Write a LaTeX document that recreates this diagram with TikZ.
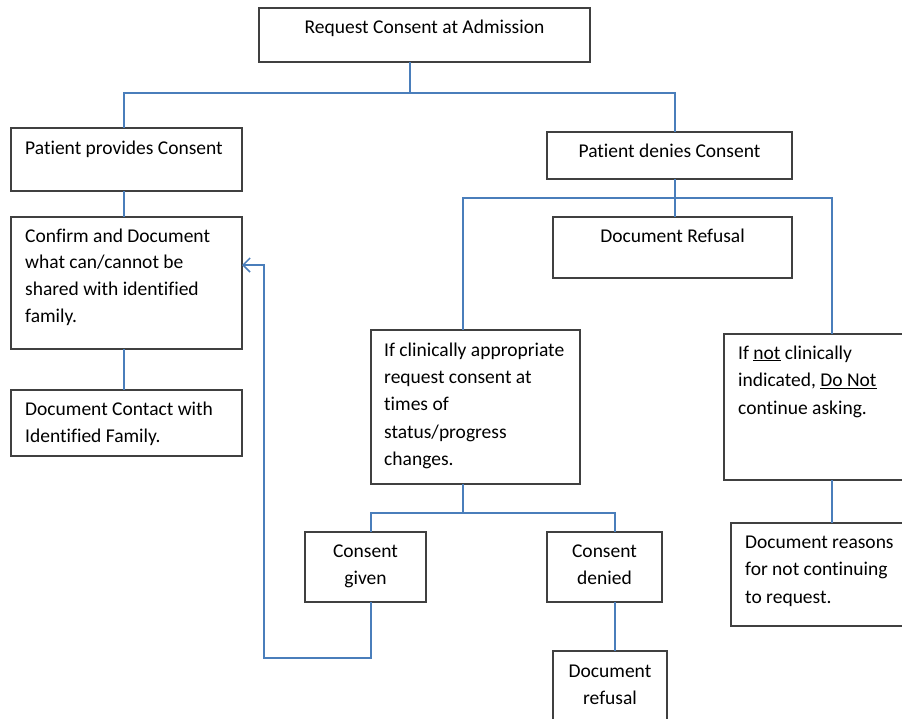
\documentclass[tikz,border=0pt]{standalone}
\usepackage{fontspec}
\setmainfont{Carlito}[Ligatures=NoCommon]
\usetikzlibrary{arrows.meta}
\definecolor{linkc}{HTML}{4A7EBB}
\definecolor{boxc}{HTML}{404040}
\tikzset{
  box/.style={draw=boxc, line width=1.2pt, rectangle, anchor=north west, inner sep=0pt, outer sep=0pt},
  txt/.style={font=\fontsize{19.5}{27}\selectfont, align=left, anchor=base west, inner sep=0pt},
  ctxt/.style={font=\fontsize{19.5}{27}\selectfont, align=center, anchor=base, inner sep=0pt},
  link/.style={draw=linkc, line width=1.5pt},
}
\begin{document}
\begin{tikzpicture}[x=1pt,y=-1pt]
\clip (0,0) rectangle (902,718);
\fill[white] (0,0) rectangle (902,718);
% boxes
\node[box, minimum width=331pt, minimum height=54pt]  (top)   at (259,8)   {};
\node[box, minimum width=231pt, minimum height=63pt]  (ppc)   at (11,128)  {};
\node[box, minimum width=231pt, minimum height=132pt] (cdoc)  at (11,217)  {};
\node[box, minimum width=231pt, minimum height=66pt]  (dcf)   at (11,390)  {};
\node[box, minimum width=245pt, minimum height=47pt]  (pdc)   at (547,132) {};
\node[box, minimum width=239pt, minimum height=61pt]  (dr)    at (553,217) {};
\node[box, minimum width=209pt, minimum height=154pt] (ic)    at (371,330) {};
\node[box, minimum width=200pt, minimum height=146pt] (nc)    at (724,334) {};
\node[box, minimum width=121pt, minimum height=70pt]  (cg)    at (305,532) {};
\node[box, minimum width=115pt, minimum height=70pt]  (cd)    at (547,532) {};
\node[box, minimum width=114pt, minimum height=90pt]  (drf)   at (553,651) {};
\node[box, minimum width=190pt, minimum height=103pt] (dreas) at (731,523) {};
% texts (anchor = baseline of the last line)
\node[ctxt] (ttop) at (424.5,33) {Request Consent at Admission};
\node[txt] (tppc) at (25,154) {Patient provides Consent};
\node[txt, font=\fontsize{19.5}{26.7}\selectfont] (tcdoc) at (25,322.1) {Confirm and Document\\what can/cannot be\\shared with identified\\family.};
\node[txt, font=\fontsize{19.5}{27.7}\selectfont] (tdcf) at (25,442.7) {Document Contact with\\Identified Family.};
\node[ctxt] (tpdc) at (669.5,157) {Patient denies Consent};
\node[ctxt] (tdr) at (672.5,242) {Document Refusal};
\node[txt, font=\fontsize{19.5}{27.4}\selectfont] (tic) at (384,465.6) {If clinically appropriate\\request consent at\\times of\\status/progress\\changes.};
\node[txt, font=\fontsize{19.5}{27.6}\selectfont] (tnc) at (738,414.2) {If \underline{not} clinically\\indicated, \underline{Do Not}\\continue asking.};
\node[ctxt] (tcg) at (365.5,584) {Consent\\given};
\node[ctxt] (tcd) at (604.5,584) {Consent\\denied};
\node[ctxt, font=\fontsize{19.5}{27.7}\selectfont] (tdrf) at (610,704.7) {Document\\refusal};
\node[txt, font=\fontsize{19.5}{27.8}\selectfont] (tdreas) at (745,603.6) {Document reasons\\for not continuing\\to request.};
% connectors
\coordinate (b1) at (410,93);
\coordinate (b2) at (675,198);
\coordinate (b3) at (463,513);
\coordinate (fb) at (264,658);
\draw[link] (b1 |- top.south) -- (b1);
\draw[link] ([xshift=-2.5pt]ppc.north) |- (b1) -| ([xshift=5.5pt]pdc.north);
\draw[link] ([xshift=-2.5pt]ppc.south) -- ([xshift=-2.5pt]cdoc.north);
\draw[link] ([xshift=-2.5pt]cdoc.south) -- ([xshift=-2.5pt]dcf.north);
\draw[link] ([xshift=5.5pt]pdc.south) -- ([xshift=2.5pt]dr.north);
\draw[link] ([xshift=-12.5pt]ic.north) |- (b2) -| ([xshift=8pt]nc.north);
\draw[link] ([xshift=-12.5pt]ic.south) -- (b3);
\draw[link] ([xshift=5.5pt]cg.north) |- (b3) -| ([xshift=10.5pt]cd.north);
\draw[link] ([xshift=10.5pt]cd.south) -- ([xshift=5pt]drf.north);
\draw[link] ([xshift=8pt]nc.south) -- ([xshift=6pt]dreas.north);
\draw[link, -{Straight Barb[length=7pt,width=14pt,line width=1.5pt]}] ([xshift=5.5pt]cg.south) |- (fb) |- ([yshift=18pt]cdoc.east);
\end{tikzpicture}
\end{document}
